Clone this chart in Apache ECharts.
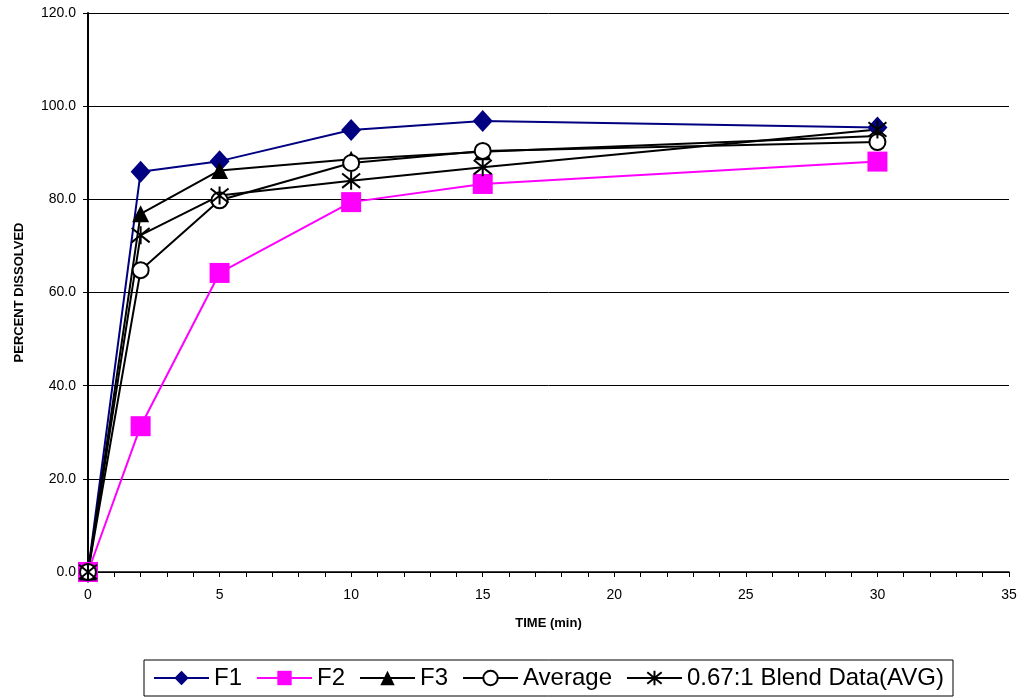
<!DOCTYPE html>
<html><head><meta charset="utf-8">
<script src="https://cdn.jsdelivr.net/npm/echarts@6/dist/echarts.min.js"></script>
<style>html,body{margin:0;padding:0;background:#fff}#c{width:1021px;height:698px}</style>
</head><body><div id="c"></div>
<script>
const times = [0, 2, 5, 10, 15, 30];
const f1 = [0, 85.9, 88.2, 94.9, 96.8, 95.4];
const f2 = [0, 31.3, 64.2, 79.4, 83.3, 88.1];
const f3 = [0, 76.9, 86.2, 88.6, 90.2, 93.6];
const avg = [0, 64.8, 79.8, 87.8, 90.4, 92.3];
const blend = [0, 72.3, 80.8, 84.0, 86.9, 95.0];
const names = ['F1', 'F2', 'F3', 'Average', '0.67:1 Blend Data(AVG)'];

const star = 'path://M0,-10L0,10M-8,-8L8,8M-8,8L8,-8';
function pts(v){ return times.map((t,i)=>[t,v[i]]); }
function mk(name, data, color, symbol, size, extra){
  return Object.assign({
    name, type:'line', data: pts(data), symbol, symbolSize: size,
    lineStyle:{color, width:2}, itemStyle:{color}, emphasis:{disabled:true}
  }, extra||{});
}
const chart = echarts.init(document.getElementById('c'));
chart.setOption({
  animation:false,
  grid:{left:88, right:12, top:13, bottom:126, containLabel:false, outerBoundsMode:'none'},
  xAxis:{type:'value', min:0, max:35, interval:5,
    name:'TIME (min)', nameLocation:'middle', nameGap:45,
    nameTextStyle:{fontFamily:'Liberation Sans', fontWeight:'bold', fontSize:13, color:'#000'},
    axisLine:{lineStyle:{color:'#000', width:1.5}},
    axisTick:{show:true, length:5, lineStyle:{color:'#000'}},
    minorTick:{show:true, splitNumber:5, length:5, lineStyle:{color:'#000'}},
    axisLabel:{fontFamily:'Liberation Sans', fontSize:14, color:'#000', margin:16},
    splitLine:{show:false}},
  yAxis:{type:'value', min:0, max:120, interval:20,
    name:'PERCENT DISSOLVED', nameLocation:'middle', nameGap:62,
    nameTextStyle:{fontFamily:'Liberation Sans', fontWeight:'bold', fontSize:13, color:'#000'},
    axisLine:{show:true, lineStyle:{color:'#000', width:2}},
    axisTick:{show:true, length:5, lineStyle:{color:'#000'}},
    axisLabel:{fontFamily:'Liberation Sans', fontSize:14, color:'#000', margin:12,
      formatter:v=>v.toFixed(1)},
    splitLine:{show:true, lineStyle:{color:'#000', width:1}}},
  legend:{bottom:2, left:144, data:names, itemWidth:55, itemHeight:18, itemGap:14,
    borderColor:'#000', borderWidth:1, padding:[6,9,6,9],
    textStyle:{fontFamily:'Liberation Sans', fontSize:24, color:'#000'}},
  series:[
    mk(names[0], f1, '#000080', 'diamond', [20,22]),
    mk(names[1], f2, '#FF00FF', 'rect', 20),
    mk(names[2], f3, '#000000', 'triangle', 17),
    mk(names[3], avg, '#000000', 'circle', 16, {itemStyle:{color:'#fff', borderColor:'#000', borderWidth:2}}),
    mk(names[4], blend, '#000000', star, 18, {itemStyle:{color:'none', borderColor:'#000', borderWidth:2}})
  ]
});
</script></body></html>
